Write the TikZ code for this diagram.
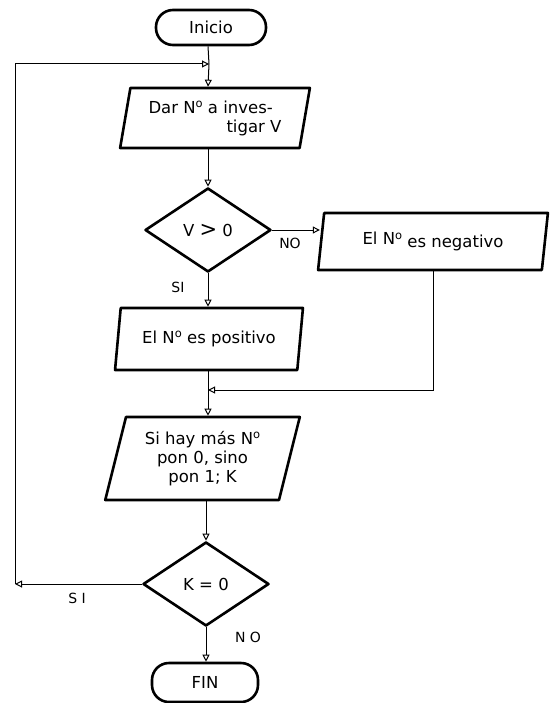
\documentclass[tikz,border=0pt]{standalone}
\usepackage{fontspec}
\setmainfont{DejaVu Sans}
\usetikzlibrary{shapes.geometric,arrows.meta}

% "No" abbreviation with a raised o
\newcommand\numabbr{N\raisebox{0.62ex}{\fontsize{11.5}{11.5}\selectfont o}}

\begin{document}
\begin{tikzpicture}[x=1pt,y=-1pt,
  every node/.style={font=\fontsize{16.5}{19}\selectfont, inner sep=0pt},
  shapeline/.style={draw, line width=2.6pt, line join=round},
  terminal/.style={shapeline, rectangle, rounded corners=17pt},
  iobox/.style={shapeline, trapezium, trapezium stretches=true,
    trapezium left angle=#1, trapezium right angle=180-#1},
  decision/.style={shapeline, diamond, minimum width=126pt, minimum height=84pt},
  link/.style={line width=1pt},
  arr/.style={link, -{Triangle[open,length=7pt,width=7pt,line width=1pt]}},
  lbl/.style={font=\fontsize{14}{16}\selectfont}]

\useasboundingbox (0,0) rectangle (550,703);

% main flow
\node[terminal, minimum width=110pt, minimum height=35pt] (ini) at (211,27.5) {Inicio};
\node[iobox=77, minimum width=190pt, minimum height=60pt, align=left] (b1) at (215,118)
  {Dar \numabbr{} a inves-\\\hspace*{78pt}tigar V};
\node[decision] (d1) at (208,230) {V {\fontsize{21}{21}\selectfont>} 0};
\node[iobox=78, minimum width=230pt, minimum height=57pt] (b2) at (433,241.5)
  {El \numabbr{} \raisebox{-2.5pt}{es negativo}};
\node[iobox=75, minimum width=188pt, minimum height=62pt] (pos) at (209,339)
  {El \numabbr{} es positivo};
\node[iobox=74, minimum width=195pt, minimum height=83pt, align=center] (b3) at (202.5,458.5)
  {Si hay más \numabbr\\pon 0, sino\\pon 1; K};
\node[decision] (d2) at (206,584) {K = 0};
\node[terminal, minimum width=106pt, minimum height=39pt] (fin) at (205,682.5) {FIN};

% junction points
\coordinate (axis) at (208,0);
\coordinate (merge) at (208,390);
\coordinate (loopbot) at (15,584);
\coordinate (loopin) at (209,64);

% connectors
\draw[link] (ini.south -| axis) -- (loopin);
\draw[arr] (loopin) -- (b1.north -| axis);
\draw[arr] (b1.south -| axis) -- (d1.north);
\draw[arr] (d1.east) -- (b2.west |- d1.east);
\draw[arr] (d1.south) -- (pos.north -| d1.south);
\draw[link] (pos.south -| axis) -- (merge);
\draw[arr] (merge) -- (b3.north -| axis);
\draw[arr] (b2.south) |- (merge);
\draw[arr] (b3.south -| d2.north) -- (d2.north);
\draw[arr] (d2.west) -- (loopbot);
\draw[arr] (loopbot) |- (loopin);
\draw[arr] (d2.south) -- (fin.north -| d2.south);

% branch labels
\node[lbl] (no1) at (290,243) {NO};
\node[lbl] (si1) at (178,287) {SI};
\node[lbl] (si2) at (77,598) {S I};
\node[lbl] (no2) at (248,637) {N O};
\end{tikzpicture}
\end{document}
